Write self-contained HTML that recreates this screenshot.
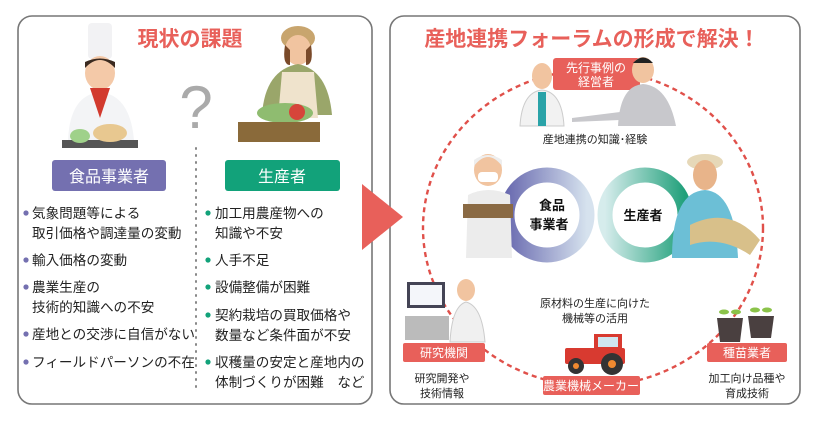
<!DOCTYPE html>
<html><head><meta charset="utf-8"><style>
body{margin:0;background:#fff;}
svg text{font-family:"Liberation Sans","Noto Sans CJK JP",sans-serif;}
</style></head><body>
<svg width="820" height="422" viewBox="0 0 820 422" xmlns="http://www.w3.org/2000/svg">
<defs>
<linearGradient id="gl" x1="0" x2="1"><stop offset="0" stop-color="#6a6bb0"/><stop offset="1" stop-color="#d6e2ee"/></linearGradient>
<linearGradient id="gr" x1="0" x2="1"><stop offset="0" stop-color="#d6ecec"/><stop offset="1" stop-color="#20a07a"/></linearGradient>
</defs>
<!-- left panel -->
<rect x="18" y="16" width="354" height="388" rx="14" fill="#fff" stroke="#777" stroke-width="1.6"/>
<text x="190" y="46" font-size="21" font-weight="bold" fill="#e8605a" text-anchor="middle">現状の課題</text>
<!-- chef -->
<rect x="88" y="23" width="24" height="36" rx="4" fill="#f2f2f4"/>
<ellipse cx="100" cy="73" rx="15" ry="17" fill="#f4c9a8"/>
<path d="M85 68 Q100 52 115 68 L115 62 Q100 55 85 62Z" fill="#3b2a20"/>
<path d="M68 140 Q70 95 100 92 Q130 95 134 140Z" fill="#f3f4f6"/>
<path d="M90 88 L100 118 L110 88Z" fill="#d23a2e"/>
<rect x="62" y="140" width="76" height="8" fill="#555"/>
<ellipse cx="80" cy="136" rx="10" ry="7" fill="#9fd18a"/>
<ellipse cx="110" cy="133" rx="17" ry="9" fill="#e8c890"/>
<!-- question mark -->
<text x="196" y="128" font-size="60" fill="#aaa" text-anchor="middle">?</text>
<!-- farmer woman -->
<ellipse cx="298" cy="38" rx="17" ry="12" fill="#c8a56e"/>
<ellipse cx="298" cy="50" rx="13" ry="15" fill="#f1c4a0"/>
<path d="M285 45 Q282 65 290 65 L290 50Z M311 45 Q314 65 306 65 L306 50Z" fill="#7a4a2a"/>
<path d="M262 115 Q265 70 298 64 Q328 70 332 115Z" fill="#9aa66a"/>
<path d="M282 72 L314 72 L318 118 L278 118Z" fill="#efe3cc"/>
<ellipse cx="285" cy="113" rx="28" ry="10" fill="#8fbc70"/>
<circle cx="297" cy="112" r="8" fill="#d6453a"/>
<rect x="238" y="122" width="82" height="20" fill="#8a6a3a"/>
<!-- dotted divider -->
<line x1="196" y1="148" x2="196" y2="392" stroke="#888" stroke-width="2" stroke-dasharray="1 6" stroke-linecap="round"/>
<rect x="52" y="160" width="114" height="31" rx="3" fill="#7470b0"/>
<text x="109" y="182" font-size="16" fill="#fff" text-anchor="middle">食品事業者</text>
<rect x="225" y="160" width="115" height="31" rx="3" fill="#12a27a"/>
<text x="282" y="182" font-size="16" fill="#fff" text-anchor="middle">生産者</text>
<g font-size="13.6" fill="#222">
<g fill="#7470b0"><circle cx="26" cy="213" r="2.6"/><circle cx="26" cy="260" r="2.6"/><circle cx="26" cy="287" r="2.6"/><circle cx="26" cy="334" r="2.6"/><circle cx="26" cy="362" r="2.6"/></g>
<text x="32" y="218">気象問題等による</text>
<text x="32" y="238">取引価格や調達量の変動</text>
<text x="32" y="265">輸入価格の変動</text>
<text x="32" y="292">農業生産の</text>
<text x="32" y="312">技術的知識への不安</text>
<text x="32" y="339">産地との交渉に自信がない</text>
<text x="32" y="367">フィールドパーソンの不在</text>
<g fill="#12a27a"><circle cx="208" cy="213" r="2.6"/><circle cx="208" cy="260" r="2.6"/><circle cx="208" cy="287" r="2.6"/><circle cx="208" cy="315" r="2.6"/><circle cx="208" cy="362" r="2.6"/></g>
<text x="215" y="218">加工用農産物への</text>
<text x="215" y="238">知識や不安</text>
<text x="215" y="265">人手不足</text>
<text x="215" y="292">設備整備が困難</text>
<text x="215" y="320">契約栽培の買取価格や</text>
<text x="215" y="340">数量など条件面が不安</text>
<text x="215" y="367">収穫量の安定と産地内の</text>
<text x="215" y="387">体制づくりが困難　など</text>
</g>
<!-- right panel -->
<rect x="390" y="16" width="410" height="388" rx="14" fill="#fff" stroke="#777" stroke-width="1.6"/>
<!-- arrow -->
<polygon points="362,184 403,217 362,250" fill="#e8605a"/>
<text x="592" y="46" font-size="21" font-weight="bold" fill="#e8605a" text-anchor="middle">産地連携フォーラムの形成で解決！</text>
<ellipse cx="593" cy="228" rx="170" ry="158" fill="none" stroke="#e0504a" stroke-width="2.4" stroke-dasharray="5 4"/>
<!-- top people -->
<ellipse cx="542" cy="76" rx="10" ry="13" fill="#f1c4a0"/>
<path d="M520 126 Q522 92 542 90 Q562 92 564 126Z" fill="#f2f2f2" stroke="#ccc"/>
<rect x="538" y="92" width="8" height="34" fill="#2aa3a8"/>
<rect x="553" y="58" width="87" height="32" rx="3" fill="#e8605a"/>
<text x="596" y="72" font-size="12" fill="#fff" text-anchor="middle">先行事例の</text>
<text x="596" y="86" font-size="12" fill="#fff" text-anchor="middle">経営者</text>
<ellipse cx="643" cy="70" rx="11" ry="13" fill="#f1c4a0"/>
<path d="M633 63 Q643 52 653 63Z" fill="#222"/>
<path d="M618 126 Q620 86 643 84 Q668 86 676 126Z" fill="#c8c8cc"/>
<path d="M572 118 L620 112 L620 120 L572 122Z" fill="#c8c8cc"/>
<text x="595" y="143" font-size="11" fill="#222" text-anchor="middle">産地連携の知識･経験</text>
<!-- infinity -->
<circle cx="547" cy="215" r="40" fill="none" stroke="url(#gl)" stroke-width="15"/>
<circle cx="645" cy="215" r="40" fill="none" stroke="url(#gr)" stroke-width="15"/>
<circle cx="547" cy="215" r="32" fill="#fff"/>
<circle cx="645" cy="215" r="32" fill="#fff"/>
<text x="552" y="210" font-size="13" font-weight="bold" fill="#111" text-anchor="middle">食品</text>
<text x="549" y="229" font-size="13" font-weight="bold" fill="#111" text-anchor="middle">事業者</text>
<text x="643" y="220" font-size="13" font-weight="bold" fill="#111" text-anchor="middle">生産者</text>
<!-- food worker -->
<ellipse cx="488" cy="170" rx="14" ry="16" fill="#f1c4a0"/>
<path d="M474 166 Q488 148 502 166 L502 160 Q488 150 474 160Z" fill="#eee"/>
<rect x="478" y="172" width="20" height="10" rx="4" fill="#fff"/>
<path d="M466 258 L468 195 Q488 185 510 195 L512 258Z" fill="#ececec"/>
<rect x="463" y="204" width="50" height="14" fill="#8a6a44"/>
<!-- farmer man -->
<ellipse cx="705" cy="162" rx="18" ry="8" fill="#e6d8b8"/>
<ellipse cx="705" cy="175" rx="12" ry="15" fill="#e8b48a"/>
<path d="M672 258 Q672 192 705 190 Q735 192 738 258Z" fill="#6cbfd6"/>
<path d="M690 225 Q730 205 760 240 L750 255 Q720 235 690 245Z" fill="#d8c08a"/>
<!-- research -->
<rect x="407" y="282" width="38" height="26" fill="#445" /><rect x="410" y="285" width="32" height="20" fill="#f4f6fa"/>
<rect x="405" y="316" width="44" height="24" fill="#bbb"/>
<ellipse cx="466" cy="290" rx="9" ry="11" fill="#f1c4a0"/>
<path d="M450 342 Q452 306 466 302 Q482 306 485 342Z" fill="#f0f0f0" stroke="#ccc"/>
<rect x="403" y="343" width="82" height="19" rx="2" fill="#e8605a"/>
<text x="444" y="357" font-size="12" fill="#fff" text-anchor="middle">研究機関</text>
<text x="442" y="382" font-size="11" fill="#222" text-anchor="middle">研究開発や</text>
<text x="442" y="397" font-size="11" fill="#222" text-anchor="middle">技術情報</text>
<!-- tractor -->
<rect x="565" y="348" width="60" height="16" rx="2" fill="#d83a30"/>
<rect x="594" y="334" width="28" height="18" fill="#d83a30"/><rect x="598" y="337" width="20" height="10" fill="#cfe6f0"/>
<circle cx="576" cy="366" r="8" fill="#333"/><circle cx="612" cy="364" r="11" fill="#333"/>
<circle cx="576" cy="366" r="3" fill="#f08a30"/><circle cx="612" cy="364" r="4" fill="#f08a30"/>
<text x="595" y="307" font-size="11" fill="#222" text-anchor="middle">原材料の生産に向けた</text>
<text x="595" y="322" font-size="11" fill="#222" text-anchor="middle">機械等の活用</text>
<rect x="543" y="376" width="97" height="19" rx="2" fill="#e8605a"/>
<text x="591" y="390" font-size="12" fill="#fff" text-anchor="middle">農業機械メーカー</text>
<!-- seedlings -->
<path d="M717 318 L743 318 L740 342 L720 342Z" fill="#4a4040"/>
<path d="M748 316 L774 316 L771 338 L751 338Z" fill="#4a4040"/>
<ellipse cx="724" cy="312" rx="5" ry="2.5" fill="#8bc34a"/><ellipse cx="736" cy="312" rx="5" ry="2.5" fill="#8bc34a"/>
<ellipse cx="755" cy="310" rx="5" ry="2.5" fill="#8bc34a"/><ellipse cx="767" cy="310" rx="5" ry="2.5" fill="#8bc34a"/>
<rect x="707" y="343" width="80" height="19" rx="2" fill="#e8605a"/>
<text x="747" y="357" font-size="12" fill="#fff" text-anchor="middle">種苗業者</text>
<text x="747" y="382" font-size="11" fill="#222" text-anchor="middle">加工向け品種や</text>
<text x="747" y="397" font-size="11" fill="#222" text-anchor="middle">育成技術</text>
</svg>
</body></html>
